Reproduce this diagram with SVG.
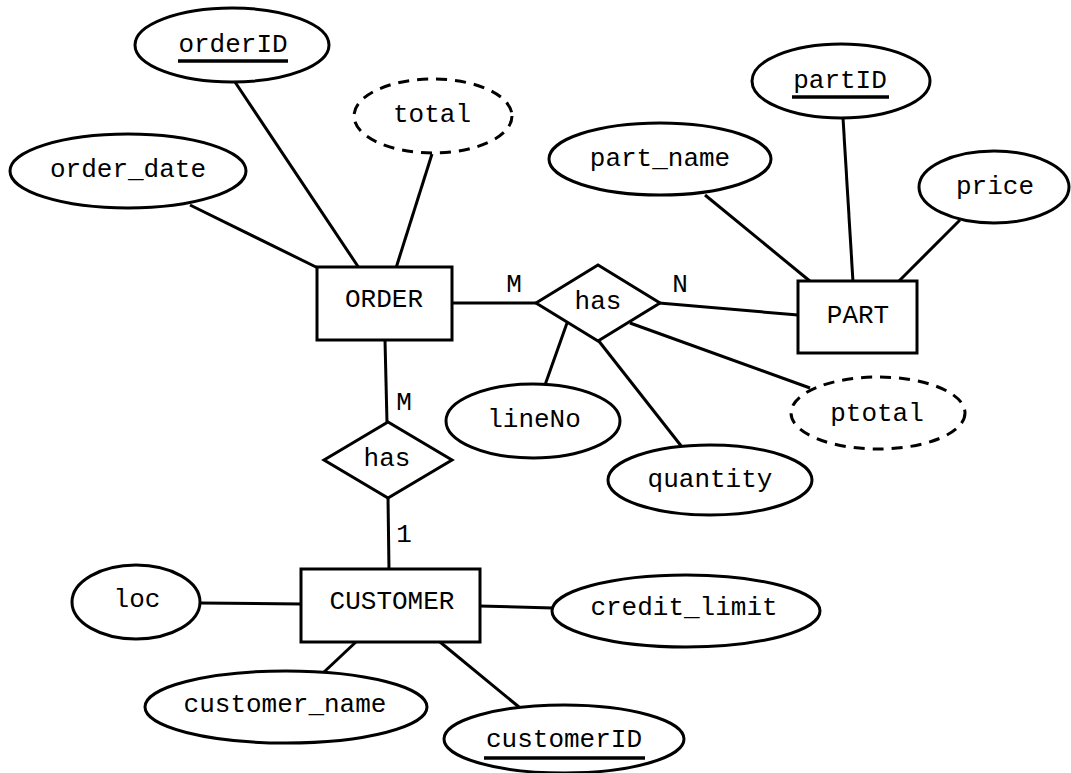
<svg xmlns="http://www.w3.org/2000/svg" width="1071" height="773" viewBox="0 0 1071 773">
  <style>
    .shape { fill: #fff; stroke: #000; stroke-width: 3; }
    .derived { fill: #fff; stroke: #000; stroke-width: 3; stroke-dasharray: 11 8; }
    .link { stroke: #000; stroke-width: 3; fill: none; }
    .key { stroke: #000; stroke-width: 3.5; }
    text { font-family: "Liberation Mono", "DejaVu Sans Mono", monospace; font-size: 26px; fill: #000; text-anchor: middle; }
  </style>
  <rect width="1071" height="773" fill="#fff"/>

  <!-- connectors -->
  <g id="connectors">
    <line class="link" x1="190" y1="205" x2="318" y2="268"/>
    <line class="link" x1="235" y1="82" x2="359" y2="268"/>
    <line class="link" x1="432" y1="154" x2="396" y2="268"/>
    <line class="link" x1="452" y1="303" x2="536" y2="303"/>
    <line class="link" x1="659" y1="303" x2="798" y2="315"/>
    <line class="link" x1="705" y1="195" x2="811" y2="282"/>
    <line class="link" x1="843" y1="118" x2="853" y2="282"/>
    <line class="link" x1="960" y1="220" x2="898" y2="282"/>
    <line class="link" x1="567" y1="323" x2="545" y2="385"/>
    <line class="link" x1="598" y1="340" x2="682" y2="447"/>
    <line class="link" x1="630" y1="323" x2="810" y2="388"/>
    <line class="link" x1="385" y1="340" x2="387" y2="423"/>
    <line class="link" x1="388" y1="497" x2="389" y2="570"/>
    <line class="link" x1="200" y1="603" x2="302" y2="604"/>
    <line class="link" x1="479" y1="606" x2="553" y2="608"/>
    <line class="link" x1="357" y1="641" x2="324" y2="672"/>
    <line class="link" x1="440" y1="642" x2="519" y2="707"/>
    <text x="514" y="292">M</text>
    <text x="680" y="292">N</text>
    <text x="404" y="410">M</text>
    <text x="404" y="542">1</text>
  </g>

  <!-- ORDER entity and its attributes -->
  <g id="order">
    <rect class="shape" x="317" y="267" width="135" height="73"/>
    <text x="384" y="307">ORDER</text>
  </g>
  <g id="orderID">
    <ellipse class="shape" cx="232" cy="45" rx="97" ry="37"/>
    <text x="233" y="52">orderID</text>
    <line class="key" x1="178" y1="61" x2="288" y2="61"/>
  </g>
  <g id="total">
    <ellipse class="derived" cx="433" cy="116" rx="79" ry="37"/>
    <text x="432" y="122">total</text>
  </g>
  <g id="order_date">
    <ellipse class="shape" cx="128" cy="171" rx="118" ry="37"/>
    <text x="128" y="177">order_date</text>
  </g>

  <!-- ORDER-PART relationship -->
  <g id="has_order_part">
    <polygon class="shape" points="536,303 598,265 660,303 598,341"/>
    <text x="598" y="309">has</text>
  </g>
  <g id="lineNo">
    <ellipse class="shape" cx="533" cy="421" rx="87" ry="37"/>
    <text x="534" y="427">lineNo</text>
  </g>
  <g id="quantity">
    <ellipse class="shape" cx="710" cy="480" rx="102" ry="35"/>
    <text x="710" y="487">quantity</text>
  </g>
  <g id="ptotal">
    <ellipse class="derived" cx="878" cy="413" rx="87" ry="36"/>
    <text x="877" y="421">ptotal</text>
  </g>

  <!-- PART entity and its attributes -->
  <g id="part">
    <rect class="shape" x="798" y="281" width="119" height="72"/>
    <text x="858" y="323">PART</text>
  </g>
  <g id="partID">
    <ellipse class="shape" cx="841" cy="81" rx="89" ry="37"/>
    <text x="840" y="88">partID</text>
    <line class="key" x1="792" y1="97" x2="889" y2="97"/>
  </g>
  <g id="part_name">
    <ellipse class="shape" cx="660" cy="159" rx="111" ry="36"/>
    <text x="660" y="166">part_name</text>
  </g>
  <g id="price">
    <ellipse class="shape" cx="994" cy="187" rx="75" ry="36"/>
    <text x="995" y="194">price</text>
  </g>

  <!-- ORDER-CUSTOMER relationship -->
  <g id="has_order_customer">
    <polygon class="shape" points="324,460 388,422 452,460 388,498"/>
    <text x="387" y="466">has</text>
  </g>

  <!-- CUSTOMER entity and its attributes -->
  <g id="customer">
    <rect class="shape" x="301" y="569" width="179" height="73"/>
    <text x="392" y="609">CUSTOMER</text>
  </g>
  <g id="loc">
    <ellipse class="shape" cx="136" cy="602" rx="64" ry="37"/>
    <text x="137" y="607">loc</text>
  </g>
  <g id="credit_limit">
    <ellipse class="shape" cx="686" cy="611" rx="134" ry="36"/>
    <text x="684" y="615">credit_limit</text>
  </g>
  <g id="customer_name">
    <ellipse class="shape" cx="286" cy="707" rx="141" ry="36"/>
    <text x="285" y="712">customer_name</text>
  </g>
  <g id="customerID">
    <ellipse class="shape" cx="564" cy="739" rx="120" ry="34"/>
    <text x="564" y="747">customerID</text>
    <line class="key" x1="484" y1="758" x2="645" y2="758"/>
  </g>
</svg>
